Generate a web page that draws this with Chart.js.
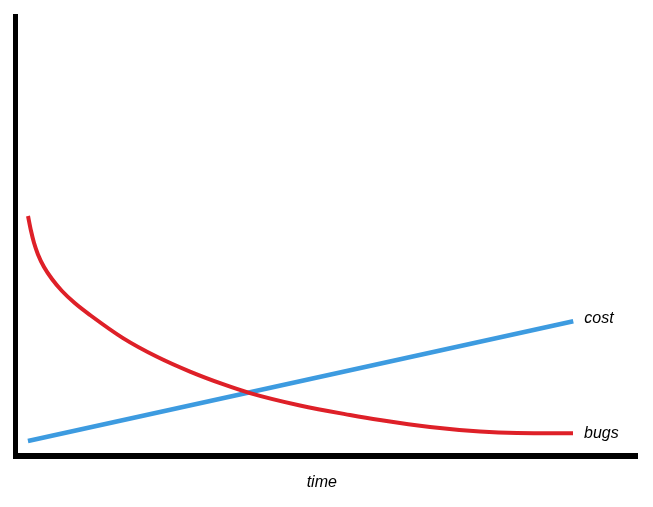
<!DOCTYPE html>
<html>
<head>
<meta charset="utf-8">
<script src="https://cdn.jsdelivr.net/npm/chart.js@4/dist/chart.umd.min.js"></script>
<style>
  html, body { margin: 0; padding: 0; background: #fff; }
  #wrap { width: 653px; height: 507px; }
</style>
</head>
<body>
<div id="wrap"><canvas id="chart"></canvas></div>
<script>
// time runs 0..100, value runs 0..100 (no units in the picture)
const bugsTime = [2.01, 2.49, 2.97, 3.61, 4.58, 5.86, 7.47, 9.56, 11.97, 17.27, 22.73, 28.03, 33.33, 37.67, 45.70, 53.73, 58.55, 66.59, 74.62, 80.56, 89.56];
const bugsValues = [54.30, 50.95, 48.24, 45.61, 42.76, 40.05, 37.33, 34.55, 31.90, 26.67, 22.44, 19.09, 16.24, 14.23, 11.43, 9.28, 8.14, 6.56, 5.54, 5.20, 5.13];
const costTime = [2.0, 89.6];
const costValues = [3.4, 30.5];
const seriesLabels = ['bugs', 'cost'];
const labelNudge = [0, -3];
const axisTitle = 'time';

function toPoints(xs, ys) {
  return xs.map((x, i) => ({ x: x, y: ys[i] }));
}

const labelFont = 'italic 16px "Liberation Sans", Arial, sans-serif';

// thick black axes, end labels and the x axis title
const sketchPlugin = {
  id: 'sketch',
  beforeDatasetsDraw(chart) {
    const ctx = chart.ctx;
    const ca = chart.chartArea;
    ctx.save();
    ctx.fillStyle = '#000';
    ctx.fillRect(ca.left - 2.5, ca.top, 5, ca.bottom - ca.top + 3);
    ctx.fillRect(ca.left - 2.5, ca.bottom - 3, ca.right - ca.left + 2.5, 6);
    ctx.restore();
  },
  afterDatasetsDraw(chart) {
    const ctx = chart.ctx;
    const ca = chart.chartArea;
    ctx.save();
    ctx.font = labelFont;
    ctx.fillStyle = '#000';
    ctx.textBaseline = 'middle';
    ctx.textAlign = 'left';
    chart.data.datasets.forEach((ds, i) => {
      const pts = chart.getDatasetMeta(i).data;
      const last = pts[pts.length - 1];
      ctx.fillText(ds.label, last.x + 11, last.y + labelNudge[i]);
    });
    ctx.textAlign = 'center';
    ctx.fillText(axisTitle, (ca.left + ca.right) / 2 - 5, ca.bottom + 27);
    ctx.restore();
  }
};

const ctx = document.getElementById('chart').getContext('2d');
const chart = new Chart(ctx, {
  type: 'line',
  data: {
    datasets: [
      {
        label: seriesLabels[0],
        data: toPoints(bugsTime, bugsValues),
        borderColor: 'rgb(222, 32, 40)',
        borderWidth: 4,
        pointRadius: 0,
        cubicInterpolationMode: 'monotone',
        fill: false
      },
      {
        label: seriesLabels[1],
        data: toPoints(costTime, costValues),
        borderColor: 'rgb(61, 155, 224)',
        borderWidth: 4.5,
        pointRadius: 0,
        fill: false
      }
    ]
  },
  options: {
    responsive: true,
    maintainAspectRatio: false,
    animation: false,
    layout: { padding: { left: 15.5, top: 14, right: 15, bottom: 51 } },
    plugins: {
      legend: { display: false },
      tooltip: { enabled: false }
    },
    scales: {
      x: { type: 'linear', min: 0, max: 100, display: false },
      y: { type: 'linear', min: 0, max: 100, display: false }
    }
  },
  plugins: [sketchPlugin]
});
</script>
</body>
</html>
